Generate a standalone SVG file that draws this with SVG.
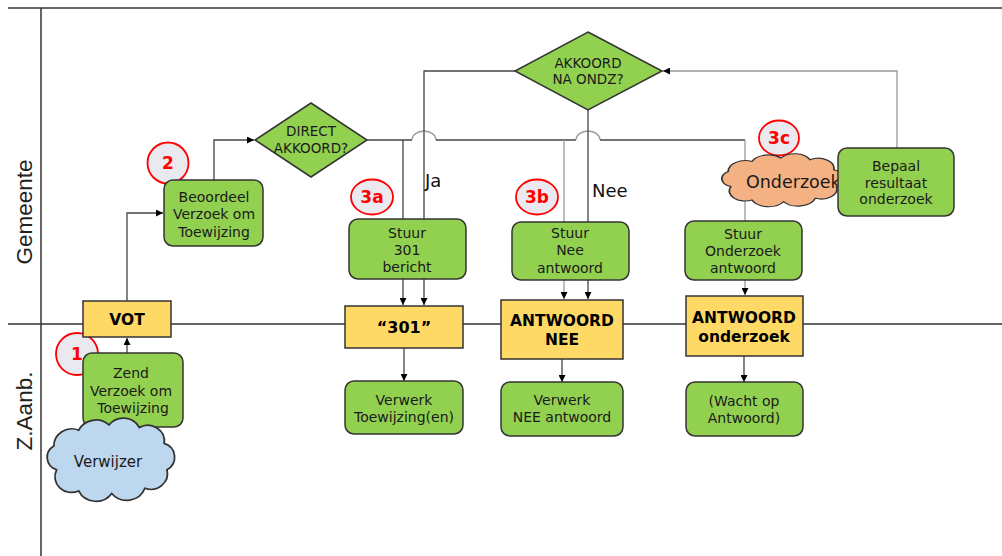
<svg xmlns="http://www.w3.org/2000/svg" width="1002" height="556" viewBox="0 0 1002 556">
<style>
.g{fill:#92D050;stroke:#333;stroke-width:1.5}
.y{fill:#FFD966;stroke:#333;stroke-width:1.5}
.t{font-family:"DejaVu Sans",Verdana,sans-serif;font-size:14px;fill:#1a1a1a;text-anchor:middle}
.b{font-family:"DejaVu Sans",Verdana,sans-serif;font-size:15.5px;font-weight:bold;fill:#000;text-anchor:middle}
.dt{font-family:"DejaVu Sans",Verdana,sans-serif;font-size:13.5px;fill:#1a1a1a;text-anchor:middle}
.lane{font-family:"Liberation Sans",Arial,sans-serif;font-size:22.5px;fill:#222;text-anchor:middle}
.lbl{font-family:"DejaVu Sans",Verdana,sans-serif;font-size:18px;fill:#111}
.bd{fill:#E9E9EF;stroke:#FF0000;stroke-width:1.8}
.bt{font-family:"DejaVu Sans",Verdana,sans-serif;font-size:17px;font-weight:bold;fill:#FF0000;text-anchor:middle}
.c{fill:none;stroke:#444;stroke-width:1.3}
.cg{fill:none;stroke:#999;stroke-width:1.3}
.ln{fill:none;stroke:#333;stroke-width:1.5}
</style>
<defs>
<marker id="ah" viewBox="0 0 10 10" refX="10" refY="5" markerWidth="7" markerHeight="7" markerUnits="userSpaceOnUse" orient="auto">
<path d="M0,0 L10,5 L0,10 Z" fill="#000"/>
</marker>
<path id="cloud" d="M12,40 A10,10 0 0 1 10,22 A13,13 0 0 1 28,10 A14,14 0 0 1 50,6 A13,13 0 0 1 72,8 A12,12 0 0 1 90,20 A11,11 0 0 1 92,40 A12,12 0 0 1 76,54 A14,14 0 0 1 52,58 A14,14 0 0 1 28,56 A12,12 0 0 1 12,40 Z"/>
</defs>

<g id="lanes">
<line class="ln" x1="8" y1="8" x2="1002" y2="8"/>
<line class="ln" x1="41" y1="8" x2="41" y2="556"/>
<line class="ln" x1="8" y1="324" x2="1002" y2="324"/>
<text class="lane" transform="translate(32,212) rotate(-90)">Gemeente</text>
<text class="lane" transform="translate(32,411) rotate(-90)">Z.Aanb.</text>
</g>

<g id="connectors">
<path class="c" d="M127,353 L127,338" marker-end="url(#ah)"/>
<path class="c" d="M127,301 L127,213 L163,213" marker-end="url(#ah)"/>
<path class="c" d="M214,180 L214,140 L254,140" marker-end="url(#ah)"/>
<path class="c" d="M367,140 L412,140"/>
<path class="cg" d="M412,140 A12,9 0 0 1 436,140"/>
<path class="c" d="M436,140 L576,140"/>
<path class="cg" d="M576,140 A12,9 0 0 1 600,140"/>
<path class="c" d="M600,140 L745,140"/>
<path class="c" d="M403,140 L403,305" marker-end="url(#ah)"/>
<path class="c" d="M515,71 L424,71 L424,305" marker-end="url(#ah)"/>
<path class="cg" d="M564,140 L564,299" marker-end="url(#ah)"/>
<path class="c" d="M588,110 L588,299" marker-end="url(#ah)"/>
<path class="cg" d="M745,140 L745,295" marker-end="url(#ah)"/>
<path class="cg" d="M897,148 L897,71 L663,71" marker-end="url(#ah)"/>
<path class="c" d="M404,348 L404,381" marker-end="url(#ah)"/>
<path class="c" d="M562,359 L562,382" marker-end="url(#ah)"/>
<path class="c" d="M744,356 L744,382" marker-end="url(#ah)"/>
<text class="lbl" x="425" y="187">Ja</text>
<text class="lbl" x="592" y="197">Nee</text>
</g>

<g id="badge1"><circle class="bd" cx="77" cy="354" r="21"/><text class="bt" x="77" y="360">1</text></g>
<g id="badge2"><circle class="bd" cx="168" cy="163" r="20.5"/><text class="bt" x="168" y="169">2</text></g>
<g id="badge3a"><ellipse class="bd" cx="372" cy="197" rx="21" ry="17.5"/><text class="bt" x="372" y="203">3a</text></g>
<g id="badge3b"><ellipse class="bd" cx="537" cy="197" rx="21" ry="17.5"/><text class="bt" x="537" y="203">3b</text></g>
<g id="badge3c"><ellipse class="bd" cx="779" cy="138" rx="20" ry="17.5"/><text class="bt" x="779" y="144">3c</text></g>

<g id="vot"><rect class="y" x="83" y="301" width="88" height="36"/><text class="b" x="127" y="325">VOT</text></g>
<g id="zend"><rect class="g" x="83" y="353" width="100" height="74" rx="9"/>
<text class="t" x="131" y="378">Zend</text><text class="t" x="131" y="396">Verzoek om</text><text class="t" x="133" y="413">Toewijzing</text></g>
<g id="verwijzer"><use href="#cloud" transform="translate(40,417) scale(1.38,1.32)" fill="#BDD7EE" stroke="#333" stroke-width="1.3" vector-effect="non-scaling-stroke"/>
<text class="t" x="108" y="467" style="font-size:15px">Verwijzer</text></g>

<g id="beoordeel"><rect class="g" x="164" y="180" width="99" height="66" rx="9"/>
<text class="t" x="214" y="202">Beoordeel</text><text class="t" x="214" y="219">Verzoek om</text><text class="t" x="214" y="237">Toewijzing</text></g>

<g id="direct"><polygon class="g" points="311,103 367,140 311,177 255,140"/>
<text class="dt" x="311" y="136">DIRECT</text><text class="dt" x="311" y="153">AKKOORD?</text></g>

<g id="akkoordna"><polygon class="g" points="588,32 662,71 588,110 515,71"/>
<text class="dt" x="588" y="68">AKKOORD</text><text class="dt" x="588" y="84">NA ONDZ?</text></g>

<g id="stuur301"><rect class="g" x="349" y="219" width="117" height="60" rx="9"/>
<text class="t" x="407" y="238">Stuur</text><text class="t" x="407" y="255">301</text><text class="t" x="407" y="272">bericht</text></g>
<g id="b301"><rect class="y" x="345" y="306" width="118" height="42"/><text class="b" x="404" y="333" style="font-size:16px">“301”</text></g>
<g id="verwerk301"><rect class="g" x="345" y="381" width="118" height="53" rx="9"/>
<text class="t" x="404" y="405">Verwerk</text><text class="t" x="404" y="422">Toewijzing(en)</text></g>

<g id="stuurnee"><rect class="g" x="512" y="222" width="117" height="58" rx="9"/>
<text class="t" x="570" y="238">Stuur</text><text class="t" x="570" y="255">Nee</text><text class="t" x="570" y="273">antwoord</text></g>
<g id="antwnee"><rect class="y" x="501" y="300" width="122" height="59"/>
<text class="b" x="562" y="326">ANTWOORD</text><text class="b" x="562" y="345">NEE</text></g>
<g id="verwerknee"><rect class="g" x="501" y="382" width="122" height="54" rx="9"/>
<text class="t" x="562" y="405">Verwerk</text><text class="t" x="562" y="422">NEE antwoord</text></g>

<g id="onderzoek"><use href="#cloud" transform="translate(715,153) scale(1.32,0.84)" fill="#F4B183" stroke="#333" stroke-width="1.3" vector-effect="non-scaling-stroke"/>
<text class="t" x="746" y="188" style="font-size:17.5px;text-anchor:start">Onderzoek</text></g>
<g id="bepaal"><rect class="g" x="838" y="148" width="116" height="68" rx="9"/>
<text class="t" x="896" y="171">Bepaal</text><text class="t" x="896" y="188">resultaat</text><text class="t" x="896" y="204">onderzoek</text></g>
<g id="stuuronderzoek"><rect class="g" x="685" y="221" width="117" height="59" rx="9"/>
<text class="t" x="743" y="239">Stuur</text><text class="t" x="743" y="256">Onderzoek</text><text class="t" x="743" y="273">antwoord</text></g>
<g id="antwonderzoek"><rect class="y" x="686" y="296" width="117" height="60"/>
<text class="b" x="744" y="323">ANTWOORD</text><text class="b" x="744" y="342">onderzoek</text></g>
<g id="wacht"><rect class="g" x="686" y="382" width="117" height="54" rx="9"/>
<text class="t" x="744" y="406">(Wacht op</text><text class="t" x="744" y="423">Antwoord)</text></g>
</svg>
